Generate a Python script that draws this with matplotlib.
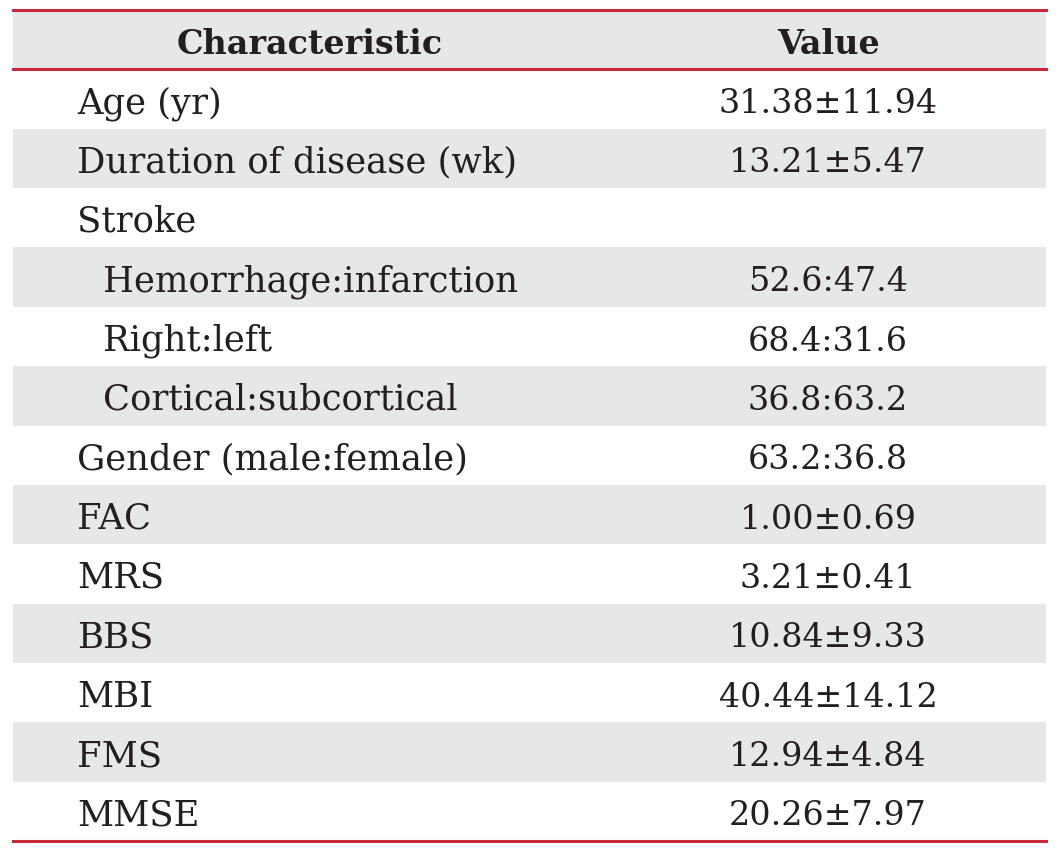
import matplotlib.pyplot as plt
from matplotlib.patches import Rectangle

# table content
header = ["Characteristic", "Value"]
labels = ["Age (yr)", "Duration of disease (wk)", "Stroke",
          "Hemorrhage:infarction", "Right:left", "Cortical:subcortical",
          "Gender (male:female)", "FAC", "MRS", "BBS", "MBI", "FMS", "MMSE"]
values = ["31.38\u00b111.94", "13.21\u00b15.47", "",
          "52.6:47.4", "68.4:31.6", "36.8:63.2",
          "63.2:36.8", "1.00\u00b10.69", "3.21\u00b10.41", "10.84\u00b19.33",
          "40.44\u00b114.12", "12.94\u00b14.84", "20.26\u00b17.97"]
indented = [False, False, False, True, True, True,
            False, False, False, False, False, False, False]

red = "#c8283a"
gray = "#e6e7e9"
ink = "#231f20"
font = "DejaVu Serif"

fig = plt.figure(figsize=(10.58, 8.53), dpi=100)
ax = fig.add_axes([13 / 1058, 1 - 842 / 853, 1033 / 1058, 831 / 853])
n = len(labels) + 1
ax.set_xlim(0, 1)
ax.set_ylim(n, 0)
ax.axis("off")

# header
ax.add_patch(Rectangle((0, 0), 1, 1, color=gray, lw=0))
ax.text(0.2875, 0.72, header[0], ha="center", va="baseline", fontsize=24,
        fontweight="bold", family=font, color=ink)
ax.text(0.789, 0.72, header[1], ha="center", va="baseline", fontsize=24,
        fontweight="bold", family=font, color=ink)

for i, (lab, val, ind) in enumerate(zip(labels, values, indented)):
    row = i + 1
    if i % 2 == 1:
        ax.add_patch(Rectangle((0, row), 1, 1, color=gray, lw=0))
    ax.text(0.087 if ind else 0.062, row + 0.72, lab, ha="left", va="baseline",
            fontsize=25.5, family=font, color=ink)
    ax.text(0.789, row + 0.72, val, ha="center", va="baseline",
            fontsize=24, family=font, color=ink)

for y in [0, 1, n]:
    ax.axhline(y, color=red, lw=2.2, clip_on=False)

fig.savefig("out.png", dpi=100)
